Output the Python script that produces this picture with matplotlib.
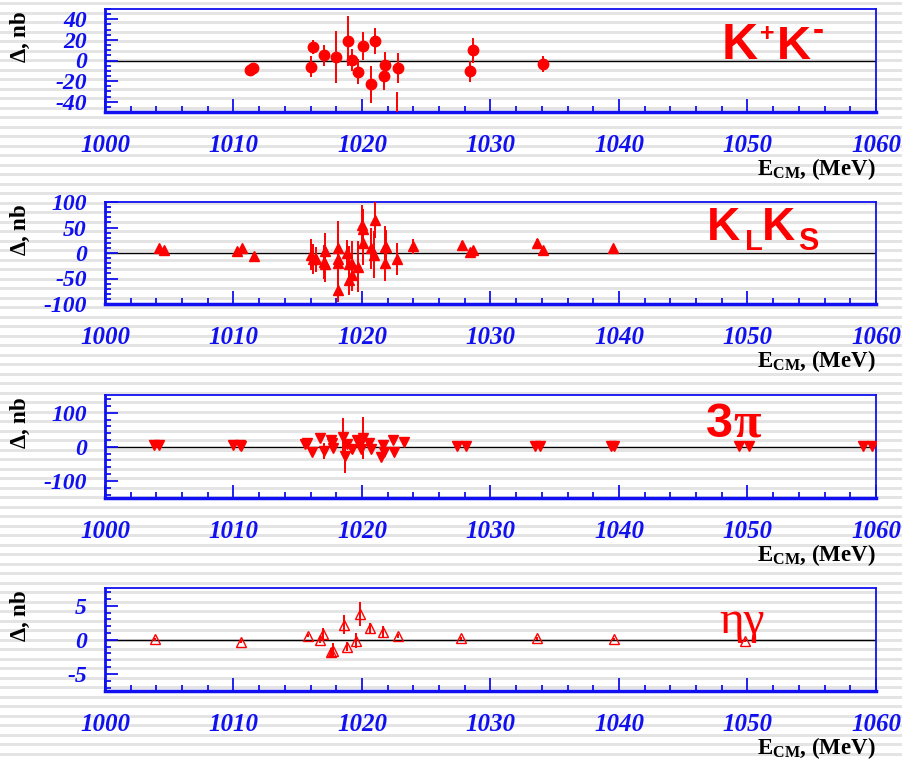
import numpy as np
import matplotlib
matplotlib.use("Agg")
import matplotlib.pyplot as plt
from matplotlib.ticker import MultipleLocator

plt.rcParams['mathtext.fontset'] = 'custom'
plt.rcParams['mathtext.bf'] = 'Liberation Serif:bold'
plt.rcParams['mathtext.rm'] = 'Liberation Serif:bold'
plt.rcParams['mathtext.sf'] = 'Liberation Sans:bold'
plt.rcParams['axes.unicode_minus'] = False

# K+K- residuals
kk_e = [1011.3, 1011.55, 1016.05, 1016.15, 1017.05, 1018.0, 1018.9, 1019.2, 1019.7, 1020.1,
        1020.7, 1021.0, 1021.8, 1021.75, 1022.8, 1022.7, 1028.4, 1028.6, 1034.1]
kk_d = [-9.5, -7, -6, 13, 5, 3.5, 19, 0.5, -11, 14, -23, 19, -4.5, -15, -7, -75, -10.5, 10, -3.3]
kk_err = [4, 5, 10.5, 7, 10.5, 25, 24.5, 11, 12, 13.5, 18, 12.5, 12.5, 13.5, 14.5, 44, 10, 12, 7.5]

# KL KS residuals
klks_e = [1004.2, 1004.6, 1010.3, 1010.7, 1011.6, 1016.0, 1016.15, 1016.4, 1017.1, 1017.05,
          1017.15, 1018.1, 1018.1, 1018.15, 1018.1, 1018.85, 1019.0, 1019.2, 1018.95, 1019.2,
          1019.7, 1020.0, 1020.05, 1020.1, 1021.0, 1020.7, 1020.95, 1021.8, 1021.9, 1021.8,
          1022.7, 1024.0, 1027.8, 1028.4, 1028.6, 1033.6, 1034.1, 1039.5]
klks_d = [10, 6, 4, 9, -5, -3, -12, -12.5, 3, -18, -21, 10, -12, -19, -72, 0, -22, -22, -53, -44,
          -27, 54, 47, 19, 65, 9, -3, 11, 11, -19, -12, 13, 16, 1, 6, 19, 6.5, 9]
klks_err = [5, 4, 4, 5, 5, 30, 30, 25, 36, 33, 35, 52, 50, 45, 25, 25, 35, 45, 30, 30,
            50, 41, 40, 43, 36, 41, 46, 41, 35, 35, 32, 14, 8, 5, 6, 8, 6, 5]

# 3pi residuals
pi3_e = [1003.8, 1004.2, 1010.0, 1010.5, 1010.6, 1015.55, 1015.75, 1016.1, 1016.75, 1017.05,
         1017.55, 1017.7, 1017.75, 1018.5, 1018.7, 1018.8, 1019.2, 1019.6, 1019.75, 1020.05,
         1019.9, 1020.55, 1020.7, 1021.45, 1021.6, 1021.75, 1022.45, 1022.5, 1023.3, 1027.4,
         1028.1, 1033.45, 1033.85, 1039.4, 1039.6, 1049.3, 1050.1, 1059.0, 1059.65]
pi3_d = [4, 4, 5, 5, 1, 9, 11, -14, 25, -12, 20, 11, -4, 30, -28, 9, -7, 19, 11, 25,
         -7, 11, -7, -30, 6, -14, 19, -14, 14, 2, 2, 2, 2, 2, 2, 2, 2, 2, 2]
pi3_err = [5, 5, 3, 3, 3, 8, 6, 10, 12, 24, 8, 8, 8, 55, 50, 8, 15, 15, 8, 62,
           10, 8, 8, 8, 6, 8, 6, 8, 5, 2, 2, 2, 2, 2, 2, 2, 2, 2, 2]

# eta gamma residuals
eg_e = [1003.9, 1010.55, 1015.8, 1016.75, 1016.95, 1017.55, 1017.75, 1018.6, 1018.85, 1019.5,
        1019.85, 1020.6, 1021.6, 1022.8, 1027.7, 1033.65, 1039.6, 1049.8]
eg_d = [0.1, -0.25, 0.6, 0, 0.8, -1.8, -1.6, 2.2, -1.0, -0.15, 3.8, 1.7, 1.1, 0.6, 0.25, 0.25, 0.15, -0.1]
eg_err = [0.2, 0.2, 0.2, 0.4, 1.0, 0.6, 1.1, 1.4, 0.7, 1.1, 1.8, 0.7, 0.9, 0.3, 0.2, 0.2, 0.1, 0.2]

W, H = 902, 762
fig = plt.figure(figsize=(W / 100, H / 100), dpi=100)
fig.patch.set_facecolor('white')

# striped slide background
bg = fig.add_axes([0, 0, 1, 1], zorder=-10)
bg.set_xlim(0, W)
bg.set_ylim(H, 0)
bg.axis('off')
for y0 in np.arange(2.0, H, 9.5):
    bg.axhspan(y0, y0 + 3.0, color='#e4e4e4', lw=0)

blue = '#1010f0'
panels = [
    (9, 112, kk_e, kk_d, kk_err, (-50, 50), 20, 5, 'o', True, 7.5),
    (202, 304, klks_e, klks_d, klks_err, (-100, 100), 50, 10, '^', True, 7.5),
    (395, 498, pi3_e, pi3_d, pi3_err, (-150, 152), 100, 20, 'v', True, 7.5),
    (588, 691, eg_e, eg_d, eg_err, (-7.5, 7.6), 5, 1, '^', False, 6.5),
]

axes = []
for top, bot, e, d, err, ylim, ymaj, ymin, mk, filled, ms in panels:
    ax = fig.add_axes([105 / W, 1 - bot / H, 771 / W, (bot - top) / H])
    ax.patch.set_alpha(0)
    ax.set_xlim(1000, 1060)
    ax.set_ylim(*ylim)
    ax.axhline(0, color='black', lw=1, zorder=1)
    ax.errorbar(e, d, yerr=err, fmt=mk, color='red', ms=ms, ecolor='red', elinewidth=1.4,
                mfc='red' if filled else 'none', mec='red', mew=1.0, capsize=0, zorder=3)
    for s in ax.spines.values():
        s.set_color(blue)
        s.set_linewidth(1.3)
    ax.spines['bottom'].set_linewidth(2.5)
    ax.spines['left'].set_linewidth(2)
    ax.xaxis.set_major_locator(MultipleLocator(10))
    ax.xaxis.set_minor_locator(MultipleLocator(2))
    ax.yaxis.set_major_locator(MultipleLocator(ymaj))
    ax.yaxis.set_minor_locator(MultipleLocator(ymin))
    ax.tick_params(which='both', direction='in', color=blue, width=1.3, labelcolor=blue,
                   top=False, right=False)
    ax.tick_params(which='major', length=9.5)
    ax.tick_params(which='minor', length=4.5)
    ax.tick_params(axis='x', pad=16)
    ax.tick_params(axis='y', pad=13)
    for lbl in ax.get_xticklabels() + ax.get_yticklabels():
        lbl.set_fontfamily('Liberation Serif')
        lbl.set_fontweight('bold')
        lbl.set_fontstyle('italic')
        lbl.set_fontsize(18)
    for lbl in ax.get_yticklabels():
        lbl.set_fontsize(17)
    fig.text(20 / W, 1 - (top + 28) / H, r'$\Delta$, nb', rotation=90, ha='center', va='center',
             fontsize=16.5, fontweight='bold', family='Liberation Serif')
    fig.text(876 / W, 1 - (bot + 57) / H, r'E$_{\mathbf{CM}}$, (MeV)', ha='right', va='center',
             fontsize=16.5, fontweight='bold', family='Liberation Serif')
    axes.append(ax)


def put(ax, px, py, top, bot, s, size, **kw):
    # place a piece of the channel name by its pixel position in the figure
    ax.text((px - 105) / 771, (bot - py) / (bot - top), s, transform=ax.transAxes, color='red',
            fontsize=size, va='baseline', ha='left', zorder=5, **kw)


sans = dict(family='Liberation Sans', fontweight='bold')
put(axes[0], 722, 59, 9, 112, 'K', 36, **sans)
put(axes[0], 760, 41, 9, 112, '+', 18, **sans)
put(axes[0], 777, 59, 9, 112, 'K', 34, **sans)
put(axes[0], 813, 40, 9, 112, '-', 24, **sans)

put(axes[1], 707, 240, 202, 304, 'K', 33, **sans)
put(axes[1], 745, 250, 202, 304, 'L', 21, **sans)
put(axes[1], 762, 240, 202, 304, 'K', 33, **sans)
put(axes[1], 798, 250, 202, 304, 'S', 22, **sans)

put(axes[2], 706, 437, 395, 498, '3', 35, **sans)
put(axes[2], 733, 437, 395, 498, 'π', 36, family='Liberation Serif', fontweight='bold')

put(axes[3], 719, 633, 588, 691, 'ηγ', 34, family='Liberation Serif')

fig.savefig('out.png', dpi=100)
